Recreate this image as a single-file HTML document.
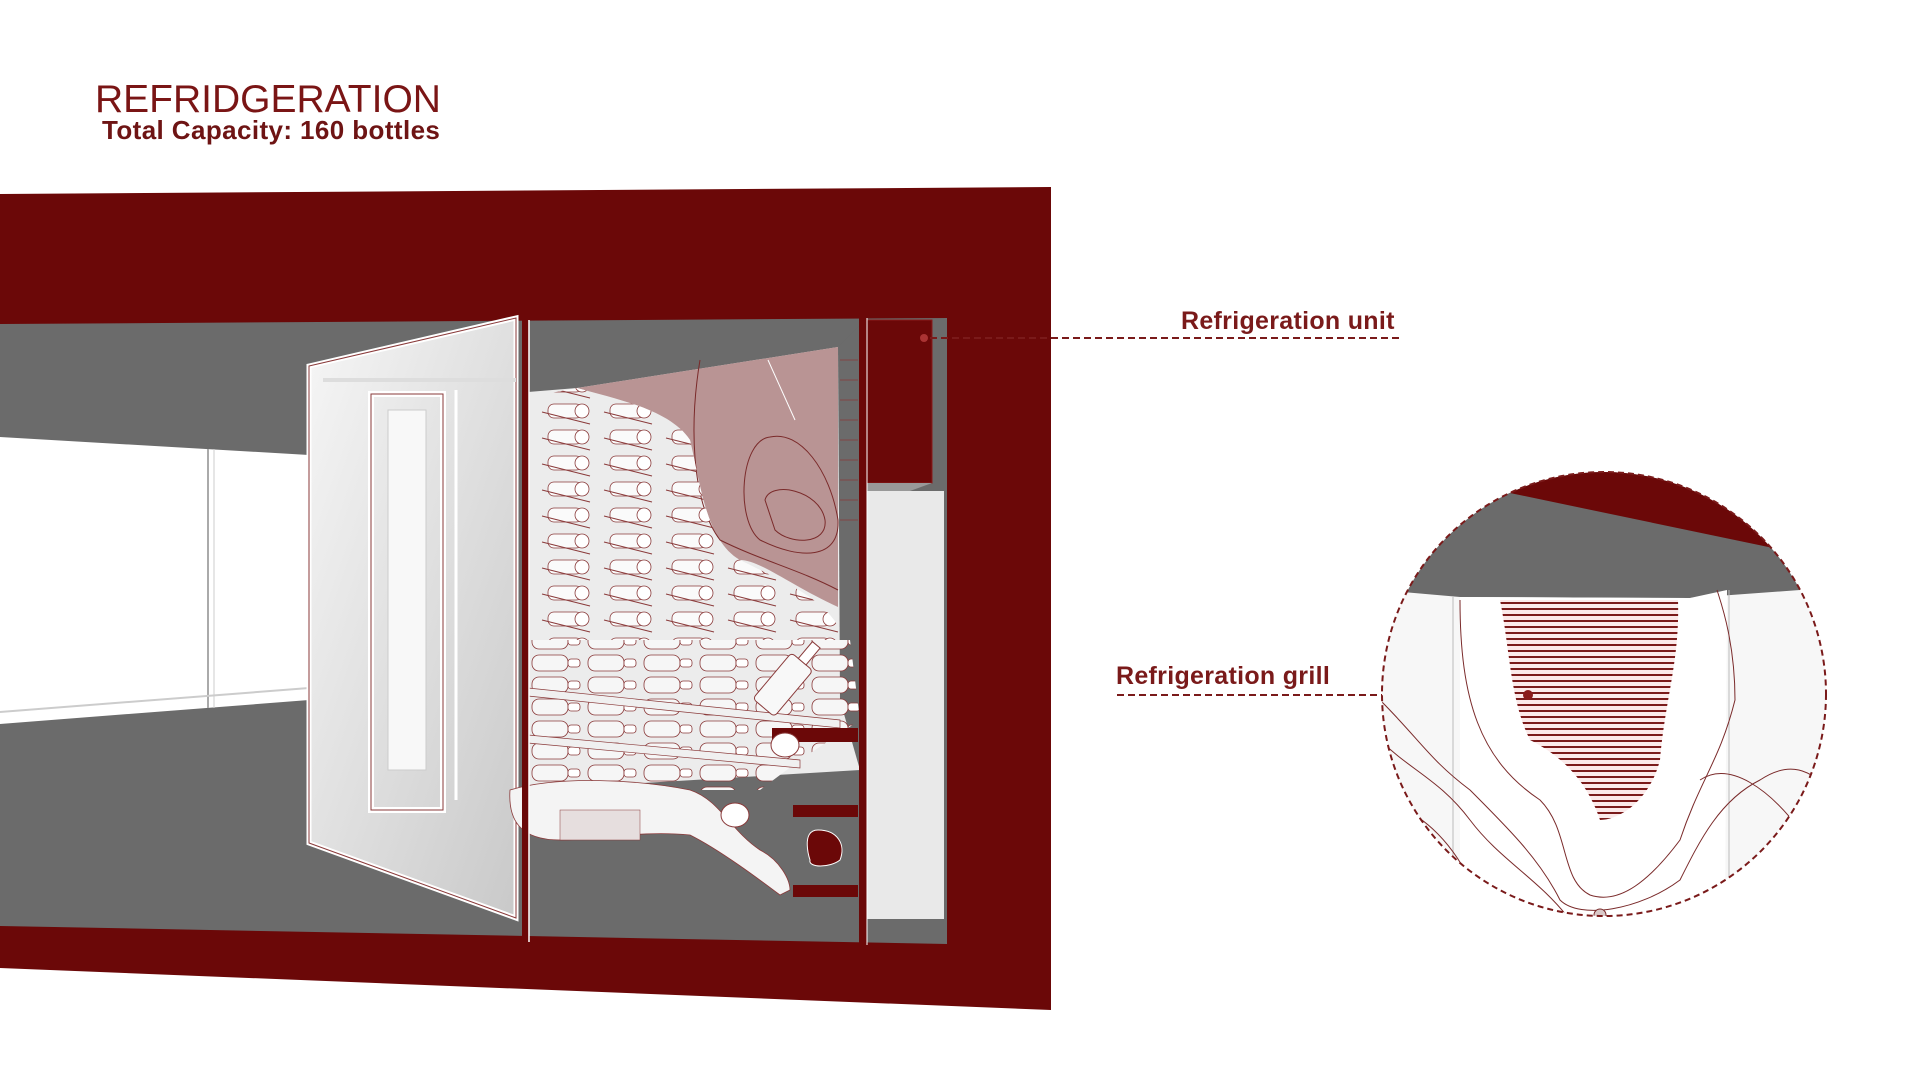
<!DOCTYPE html>
<html><head><meta charset="utf-8"><style>
html,body{margin:0;padding:0;background:#fff;width:1920px;height:1080px;overflow:hidden}
svg{position:absolute;left:0;top:0}
.t1{position:absolute;left:95px;top:78px;font-family:"Liberation Sans",sans-serif;font-size:39px;color:#7a1515;font-weight:normal}
.t2{position:absolute;left:102px;top:115px;font-family:"Liberation Sans",sans-serif;font-size:26px;font-weight:bold;color:#6e1414;letter-spacing:0.4px}
.lb{position:absolute;font-family:"Liberation Sans",sans-serif;font-size:25px;font-weight:bold;color:#7a1a1a;letter-spacing:0.3px}
</style></head><body>
<svg width="1920" height="1080" viewBox="0 0 1920 1080">
<defs>
<pattern id="bt" x="540" y="400" width="62" height="26" patternUnits="userSpaceOnUse">
<rect x="8" y="4" width="34" height="14" rx="6" fill="#fafafa" stroke="#8a3a3a" stroke-width="0.8"/>
<circle cx="42" cy="11" r="7" fill="#fff" stroke="#8a3a3a" stroke-width="0.8"/>
<line x1="2" y1="12" x2="50" y2="24" stroke="#8a3a3a" stroke-width="1"/>
</pattern>
<pattern id="bt2" x="530" y="630" width="56" height="22" patternUnits="userSpaceOnUse">
<rect x="2" y="3" width="36" height="16" rx="7" fill="#f6f6f6" stroke="#8a3a3a" stroke-width="0.8"/>
<rect x="38" y="7" width="12" height="8" rx="3" fill="#fff" stroke="#8a3a3a" stroke-width="0.8"/>
</pattern>
<pattern id="hatch" width="10" height="6" patternUnits="userSpaceOnUse">
<rect width="10" height="6" fill="#fbe9e9"/><line x1="0" y1="3" x2="10" y2="3" stroke="#7a1a1a" stroke-width="2"/>
</pattern>
<linearGradient id="gl" x1="0" y1="0" x2="1" y2="1"><stop offset="0" stop-color="#f6f6f6"/><stop offset="1" stop-color="#c9c9c9"/></linearGradient>
<clipPath id="cc"><circle cx="1604" cy="694" r="222"/></clipPath>
</defs>
<polygon points="0,194 1051,187 1051,1010 0,968" fill="#6b0808"/>
<polygon points="0,324 947,318 947,944 0,926" fill="#6b6b6b"/>
<polygon points="0,437 309,455 309,700 0,724" fill="#fff"/>
<line x1="208" y1="449" x2="208" y2="708" stroke="#aaa" stroke-width="2"/>
<line x1="214" y1="449" x2="214" y2="708" stroke="#ccc" stroke-width="1"/>
<line x1="0" y1="712" x2="309" y2="688" stroke="#ccc" stroke-width="2"/>
<polygon points="309,366 516,318 516,918 309,843" fill="url(#gl)" stroke="#fff" stroke-width="5"/>
<polygon points="309,366 516,318 516,918 309,843" fill="none" stroke="#8a3a3a" stroke-width="1"/>
<line x1="323" y1="380" x2="516" y2="380" stroke="#ddd" stroke-width="4"/>
<rect x="371" y="394" width="72" height="416" fill="none" stroke="#fff" stroke-width="6"/>
<rect x="371" y="394" width="72" height="416" fill="none" stroke="#8a3a3a" stroke-width="1"/>
<rect x="388" y="410" width="38" height="360" fill="#f8f8f8" stroke="#ccc"/>
<line x1="456" y1="390" x2="456" y2="800" stroke="#fff" stroke-width="3"/>
<polygon points="528,392 577,388 838,347 860,340 860,770 528,790" fill="#ececec"/>
<path d="M577,388 L838,347 L838,607 C790,585 760,560 740,560 C705,540 700,480 690,440 C670,410 620,400 577,388Z" fill="#b99494"/>
<path d="M700,360 C690,420 690,500 720,540 C760,560 800,570 838,590" fill="none" stroke="#7a2a2a" stroke-width="1"/>
<path d="M770,437 C740,440 735,520 760,540 C800,560 840,560 838,520 C830,470 800,430 770,437Z" fill="none" stroke="#7a2a2a" stroke-width="1"/>
<path d="M765,500 C770,480 820,490 825,520 C828,545 790,545 775,530Z" fill="none" stroke="#7a2a2a" stroke-width="1"/>
<line x1="768" y1="360" x2="795" y2="420" stroke="#fff" stroke-width="1"/>
<polygon points="838,347 860,325 860,770 840,700" fill="#6b6b6b"/>
<g stroke="#8a3a3a" stroke-width="0.7">
<line x1="840" y1="360" x2="858" y2="360"/><line x1="840" y1="380" x2="858" y2="380"/><line x1="840" y1="400" x2="858" y2="400"/><line x1="840" y1="420" x2="858" y2="420"/><line x1="840" y1="440" x2="858" y2="440"/><line x1="840" y1="460" x2="858" y2="460"/><line x1="840" y1="480" x2="858" y2="480"/><line x1="840" y1="500" x2="858" y2="500"/><line x1="840" y1="520" x2="858" y2="520"/>
</g>
<path d="M535,396 L577,388 C620,400 670,410 690,440 C700,480 705,540 740,560 C790,585 830,600 845,640 L845,640 L535,640Z" fill="url(#bt)"/>
<polygon points="528,640 850,640 860,720 800,760 760,790 528,790" fill="url(#bt2)"/>
<polygon points="528,688 840,720 840,728 528,696" fill="#f0f0f0" stroke="#8a3a3a" stroke-width="0.7"/>
<polygon points="528,735 800,760 800,768 528,743" fill="#f0f0f0" stroke="#8a3a3a" stroke-width="0.7"/>
<path d="M510,790 C560,775 640,780 690,790 C720,800 730,830 760,850 C780,860 790,880 790,890 L780,895 C760,880 720,850 690,835 C640,830 600,840 560,840 C520,840 508,820 510,790Z" fill="#f4f4f4" stroke="#8a3a3a" stroke-width="0.8"/>
<rect x="560" y="810" width="80" height="30" fill="#e6dede" stroke="#8a3a3a" stroke-width="0.5"/>
<g transform="translate(770,700) rotate(-50)"><rect x="-10" y="-14" width="60" height="28" rx="4" fill="#f8f8f8" stroke="#8a3a3a"/><rect x="50" y="-5" width="22" height="10" fill="#fff" stroke="#8a3a3a"/></g>
<polygon points="866,491 944,491 944,919 866,919" fill="#e9e9e9"/>
<rect x="772" y="728" width="86" height="14" fill="#6b0808"/>
<rect x="793" y="805" width="65" height="12" fill="#6b0808"/>
<rect x="793" y="885" width="65" height="12" fill="#6b0808"/>
<path d="M818,830 C800,830 810,860 810,860 C808,868 830,868 840,860 C846,845 838,830 818,830Z" fill="#6b0808" stroke="#fff"/>
<ellipse cx="785" cy="745" rx="14" ry="12" fill="#fff" stroke="#8a3a3a"/>
<ellipse cx="735" cy="815" rx="14" ry="12" fill="#fff" stroke="#8a3a3a"/>
<rect x="863" y="320" width="69" height="163" fill="#6b0808" stroke="#8a1a1a"/>
<polygon points="863,483 932,483 910,491 866,491" fill="#999"/>
<rect x="522" y="318" width="7" height="624" fill="#6b0808"/>
<rect x="859" y="316" width="8" height="632" fill="#6b0808"/>
<line x1="529" y1="320" x2="529" y2="942" stroke="#fff" stroke-width="1.5"/>
<line x1="867" y1="318" x2="867" y2="945" stroke="#fff" stroke-width="1"/>
<circle cx="924" cy="338" r="4" fill="#a33"/>
<line x1="930" y1="338" x2="1400" y2="338" stroke="#7a1a1a" stroke-width="2" stroke-dasharray="7,4"/>
<line x1="1117" y1="695" x2="1526" y2="695" stroke="#7a1a1a" stroke-width="2" stroke-dasharray="7,4"/>
<g clip-path="url(#cc)">
<rect x="1380" y="470" width="450" height="450" fill="#f7f7f7"/>
<polygon points="1380,470 1830,470 1830,591 1800,590 1690,598 1460,597 1380,590" fill="#6b6b6b"/>
<polygon points="1380,470 1830,470 1830,550 1778,549 1510,493 1380,530" fill="#6b0808"/>
<polygon points="1460,597 1690,598 1727,590 1725,920 1460,920" fill="#fff"/>
<line x1="1453" y1="597" x2="1453" y2="920" stroke="#bbb"/>
<line x1="1729" y1="590" x2="1729" y2="920" stroke="#bbb"/>
<path d="M1500,600 L1678,600 C1680,660 1665,700 1660,760 C1650,800 1620,820 1600,820 C1590,790 1570,760 1530,740 C1510,700 1510,650 1500,600Z" fill="url(#hatch)"/>
<g fill="none" stroke="#7a2a2a" stroke-width="1">
<path d="M1460,600 C1460,700 1480,760 1540,800 C1570,830 1560,880 1590,895 C1620,905 1650,880 1680,840 C1700,780 1720,760 1735,700 C1735,640 1720,600 1717,590"/>
<path d="M1380,700 C1420,740 1430,760 1470,790 C1510,830 1540,860 1560,900 C1580,920 1640,910 1680,880 C1700,840 1720,800 1760,780 C1790,760 1810,770 1830,790"/>
<path d="M1380,740 C1410,770 1440,780 1470,820 C1500,860 1540,880 1570,920"/>
<path d="M1380,800 C1420,810 1450,840 1470,880 C1490,910 1520,930 1540,920"/>
<path d="M1830,870 C1800,840 1780,820 1760,860 C1740,900 1700,890 1690,920"/>
<path d="M1700,780 C1730,760 1770,790 1800,830 C1810,860 1810,880 1830,900"/>
</g>
<circle cx="1600" cy="915" r="6" fill="#d9c9c9" stroke="#7a2a2a"/>
</g>
<circle cx="1604" cy="694" r="222" fill="none" stroke="#7a1a1a" stroke-width="2" stroke-dasharray="6,4"/>
<circle cx="1528" cy="695" r="5" fill="#8a1a1a"/>
</svg>
<div class="t1">REFRIDGERATION</div>
<div class="t2">Total Capacity: 160 bottles</div>
<div class="lb" style="left:1181px;top:307px">Refrigeration unit</div>
<div class="lb" style="left:1116px;top:662px">Refrigeration grill</div>
</body></html>
